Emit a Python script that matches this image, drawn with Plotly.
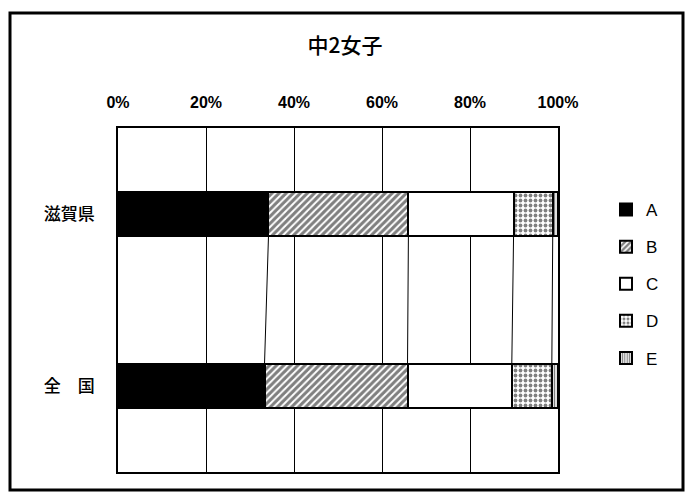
import plotly.graph_objects as go

# values (percent)
regions = ['滋賀県', '全　国']
series = ['A', 'B', 'C', 'D', 'E']
shiga = [34.2, 31.8, 23.9, 8.9, 1.2]
zenkoku = [33.3, 32.5, 23.7, 9.1, 1.4]
x_ticks = [0, 20, 40, 60, 80, 100]

patterns = {
    'A': dict(shape='', fgcolor='black', bgcolor='black'),
    'B': dict(shape='/', fgcolor='black', bgcolor='white', size=5, solidity=0.6),
    'C': dict(shape='', fgcolor='white', bgcolor='white'),
    'D': dict(shape='.', fgcolor='black', bgcolor='white', size=5, solidity=0.45),
    'E': dict(shape='|', fgcolor='black', bgcolor='white', size=3, solidity=0.5),
}
fills = {'A': 'black', 'B': 'white', 'C': 'white', 'D': 'white', 'E': 'white'}

# figure geometry (page body adds 8px offset)
L, T, W, H = 110, 120, 440, 344
bar_w = 0.26

fig = go.Figure()

for i, name in enumerate(series):
    fig.add_trace(go.Bar(
        y=[0, 1], x=[shiga[i], zenkoku[i]],
        orientation='h', name=name, width=bar_w,
        marker=dict(color=fills[name], pattern=patterns[name],
                    line=dict(color='black', width=2)),
        legendgroup=name,
    ))

# series lines between the two bars
lx, ly = [], []
cs, cz = 0, 0
for i in range(len(series) - 1):
    cs += shiga[i]
    cz += zenkoku[i]
    lx += [cs, cz, None]
    ly += [bar_w / 2, 1 - bar_w / 2, None]
fig.add_trace(go.Scatter(x=lx, y=ly, mode='lines', showlegend=False,
                         line=dict(color='black', width=1), hoverinfo='skip'))

fig.update_layout(
    barmode='stack',
    width=694, height=498,
    margin=dict(l=L, r=694 - L - W, t=T, b=498 - T - H),
    paper_bgcolor='white', plot_bgcolor='white',
    font=dict(family='Noto Sans CJK JP', color='black'),
    title=dict(text='中2女子', x=337 / 694, xanchor='center',
               y=1 - 38 / 498, yanchor='middle',
               font=dict(size=21, family='Noto Sans CJK JP', weight=500)),
    legend=dict(x=(598 - L) / W, y=1 - (184 - T) / H, xanchor='left', yanchor='top',
                traceorder='grouped', tracegroupgap=12,
                font=dict(size=17, family='Liberation Sans'),
                itemwidth=30, bgcolor='rgba(0,0,0,0)'),
    showlegend=True,
)

fig.update_xaxes(
    range=[0, 100], side='top', tickvals=x_ticks,
    ticktext=[f'{v}%' for v in x_ticks],
    showgrid=True, gridcolor='black', gridwidth=1,
    showline=True, linecolor='black', linewidth=1.5, mirror=True,
    ticks='', ticklabelstandoff=12,
    tickfont=dict(size=16, family='Liberation Sans', weight='bold'),
    zeroline=False,
)
fig.update_yaxes(
    range=[1.5, -0.5], tickvals=[0, 1], ticktext=regions,
    showgrid=False, showline=True, linecolor='black', linewidth=1.5,
    mirror=True, ticks='', ticklabelstandoff=18,
    tickfont=dict(size=17, family='Noto Sans CJK JP', weight=500),
    zeroline=False,
)

# outer frame of the chart area
fig.add_shape(type='rect', xref='paper', yref='paper',
              x0=(2 - L) / W, x1=(675 - L) / W,
              y0=-(482 - T - H) / H, y1=1 + (T - 5) / H,
              line=dict(color='black', width=3), fillcolor='rgba(0,0,0,0)')

fig.write_html('out.html')
